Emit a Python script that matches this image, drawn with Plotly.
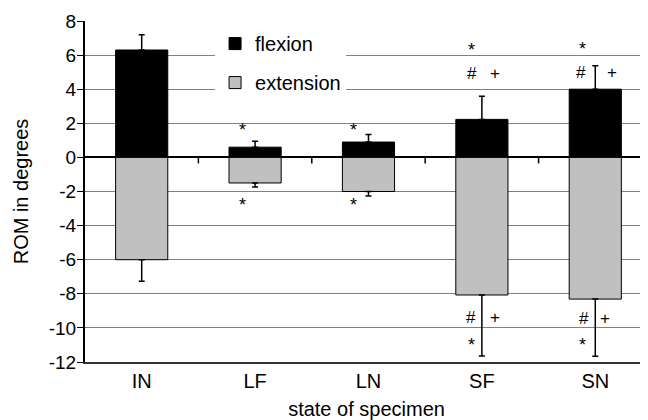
import plotly.graph_objects as go

categories = ["IN", "LF", "LN", "SF", "SN"]
flexion = [6.3, 0.6, 0.9, 2.23, 4.0]
flexion_err = [0.9, 0.35, 0.45, 1.35, 1.38]
extension = [-6.0, -1.5, -2.0, -8.07, -8.31]
extension_err = [1.27, 0.24, 0.27, 3.58, 3.36]
y_ticks = [-12, -10, -8, -6, -4, -2, 0, 2, 4, 6, 8]
y_tick_labels = ["-12", "-10", "-8", "-6", "-4", "-2", "0", "2", "4", "6", "8"]

# significance markers: (category, text, dx offset in category units, y value)
markers = [
    ("LF", "*", -0.11, 1.6), ("LF", "*", -0.11, -2.8),
    ("LN", "*", -0.13, 1.6), ("LN", "*", -0.13, -2.8),
    ("SF", "*", -0.09, 6.3), ("SF", "#", -0.09, 4.95), ("SF", "+", 0.12, 4.95),
    ("SF", "#", -0.10, -9.4), ("SF", "+", 0.12, -9.4), ("SF", "*", -0.09, -11.0),
    ("SN", "*", -0.11, 6.35), ("SN", "#", -0.13, 4.98), ("SN", "+", 0.15, 4.98),
    ("SN", "#", -0.10, -9.45), ("SN", "+", 0.085, -9.45), ("SN", "*", -0.11, -11.0),
]

FONT = "Liberation Sans, Arial, Helvetica, sans-serif"
xidx = list(range(len(categories)))

fig = go.Figure()
fig.add_trace(go.Bar(
    x=xidx, y=flexion, name="flexion", legendgroup="a",
    marker=dict(color="black", line=dict(color="black", width=1)),
    width=0.46,
    error_y=dict(type="data", symmetric=False, array=flexion_err,
                 arrayminus=[0] * len(flexion_err), color="black", thickness=1.5, width=3),
))
fig.add_trace(go.Bar(
    x=xidx, y=extension, name="extension", legendgroup="b",
    marker=dict(color="#c0c0c0", line=dict(color="black", width=1)),
    width=0.46,
    error_y=dict(type="data", symmetric=False, array=[0] * len(extension_err),
                 arrayminus=extension_err, color="black", thickness=1.5, width=3),
))

cat_pos = {c: i for i, c in enumerate(categories)}
for cat, txt, dx, yv in markers:
    fig.add_annotation(x=cat_pos[cat] + dx, y=yv, text=txt, showarrow=False,
                       font=dict(size=18 if txt == "*" else 17, color="black", family=FONT),
                       xanchor="center", yanchor="middle")

# small tick marks on the zero line between categories
for i in range(len(categories) - 1):
    fig.add_shape(type="line", xref="x", yref="y", x0=i + 0.5, x1=i + 0.5,
                  ysizemode="pixel", yanchor=0, y0=0, y1=-6,
                  line=dict(color="black", width=1.5))

# the page body adds an 8px offset, so the figure is 8px smaller than the window
fig.update_layout(
    width=640, height=412,
    margin=dict(l=77, r=0, t=13, b=58, autoexpand=False),
    paper_bgcolor="white", plot_bgcolor="white",
    barmode="overlay",
    font=dict(family=FONT, size=20, color="black"),
    showlegend=True,
    legend=dict(x=0.231, y=0.991, xanchor="left", yanchor="top",
                bgcolor="white", borderwidth=0, tracegroupgap=10,
                font=dict(size=20, family=FONT, color="black")),
    xaxis=dict(range=[-0.5, 4.465], tickvals=xidx, ticktext=categories,
               showgrid=False, zeroline=False, showline=True, automargin=False,
               linecolor="#333333", linewidth=2, ticks="",
               tickfont=dict(size=20), title=dict(text="state of specimen",
               font=dict(size=20))),
    yaxis=dict(range=[-12, 8], tickvals=y_ticks, ticktext=y_tick_labels,
               showgrid=True, gridcolor="#808080", gridwidth=1, automargin=False,
               zeroline=True, zerolinecolor="black", zerolinewidth=1.5,
               showline=True, linecolor="black", linewidth=2,
               ticks="outside", ticklen=6, tickcolor="black",
               ticklabelstandoff=-3,
               tickfont=dict(size=19),
               title=dict(text="ROM in degrees", font=dict(size=20))),
)

fig.write_html("out.html")
